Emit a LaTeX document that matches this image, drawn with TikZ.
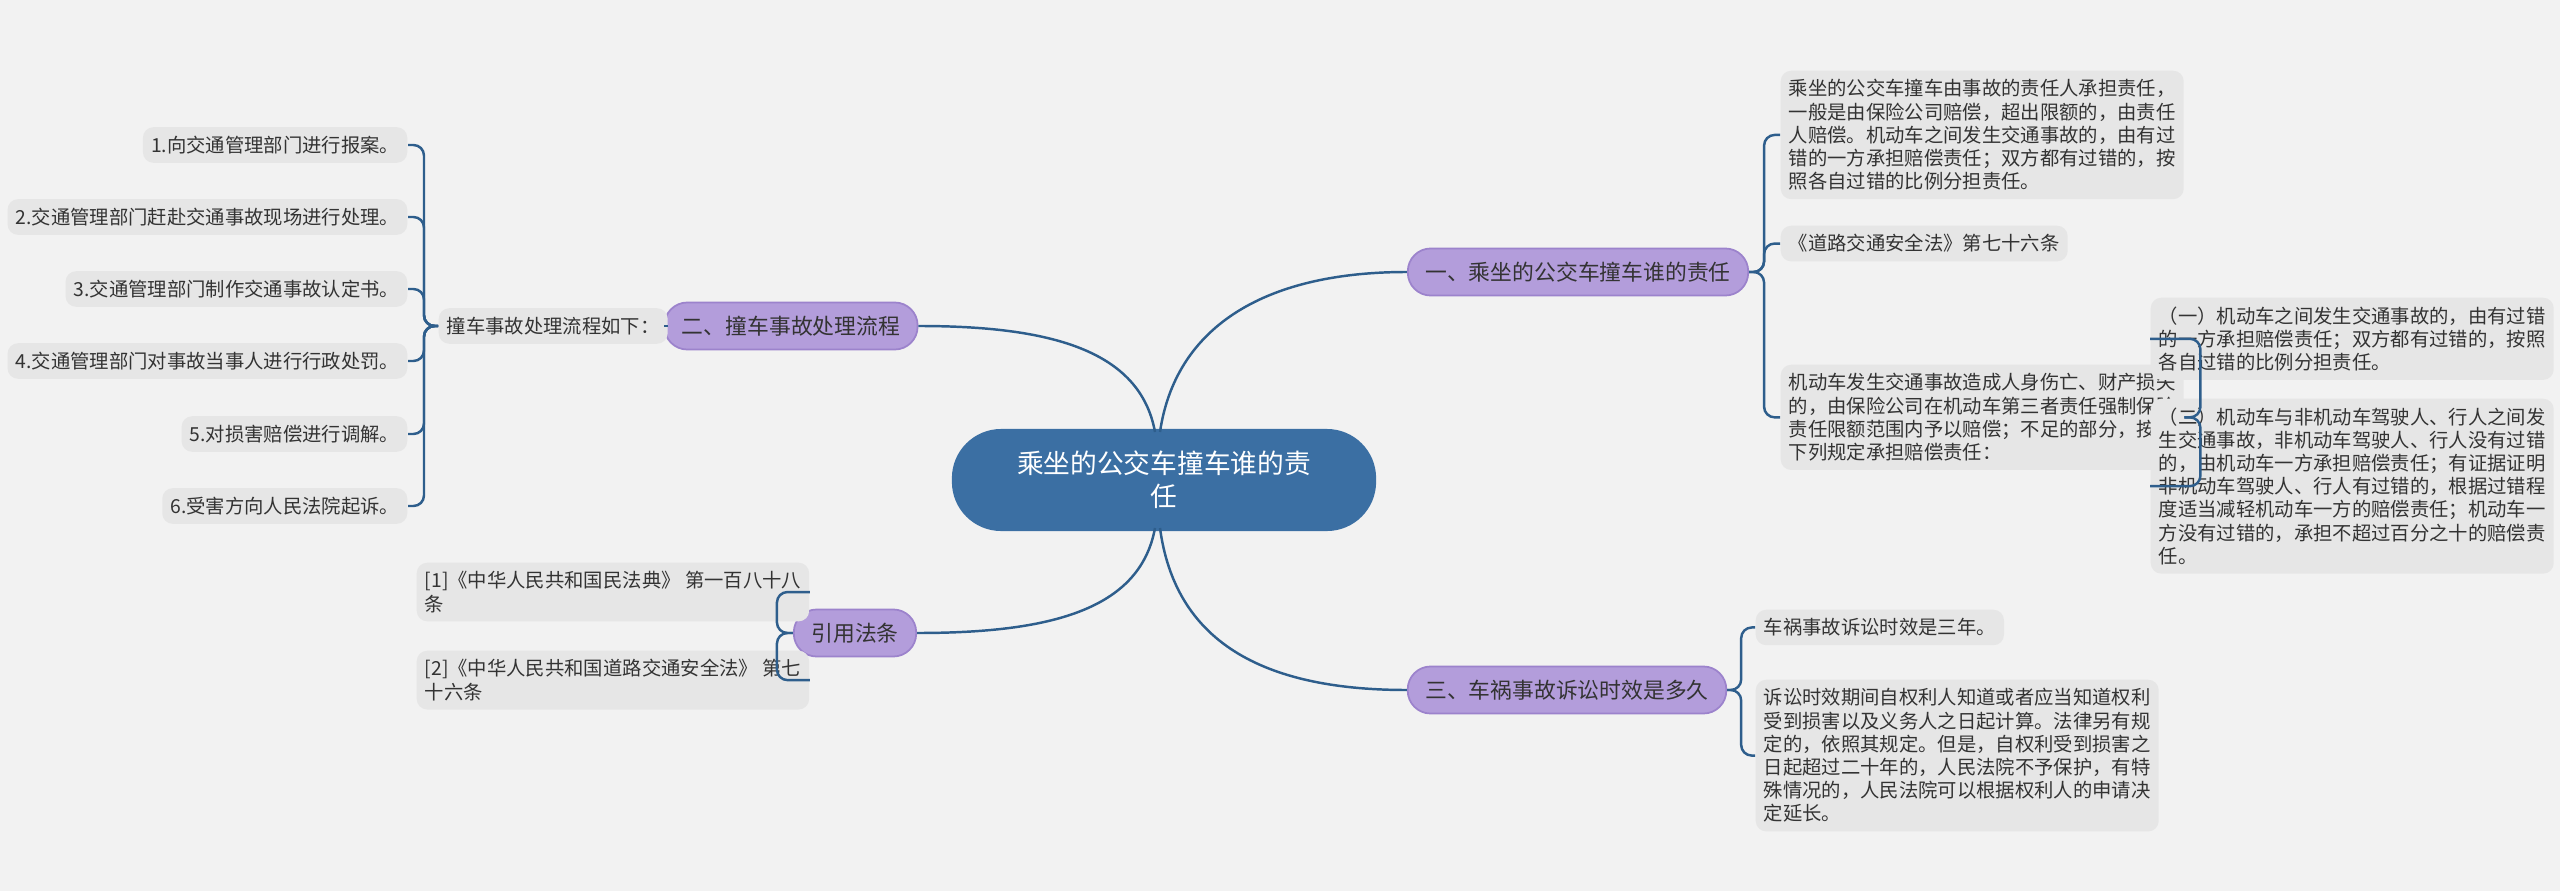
\documentclass[tikz,border=0pt]{standalone}
\usepackage{fontspec}
\setmainfont{Noto Sans CJK SC}
\usetikzlibrary{calc}
\definecolor{bg}{HTML}{F2F2F2}
\definecolor{leaf}{HTML}{E6E6E6}
\definecolor{lnk}{HTML}{2E5E8C}
\definecolor{ctr}{HTML}{3B6FA3}
\definecolor{br}{HTML}{B39DDB}
\definecolor{brd}{HTML}{9C83CC}
\definecolor{txt}{HTML}{333333}
\tikzset{
 leafbox/.style={fill=leaf,rounded corners=3pt,inner xsep=2.3pt,inner ysep=2.5pt,align=left,font=\fontsize{5.5pt}{6.6pt}\selectfont,text=txt},
 branchbox/.style={fill=br,draw=brd,line width=0.5pt,rounded corners=6.5pt,minimum height=0.47cm,inner xsep=5pt,font=\fontsize{6.2pt}{7.5pt}\selectfont,text=txt},
 link/.style={draw=lnk,line width=0.7pt},
 brace/.style={link,rounded corners=3pt},
}
\begin{document}
\begin{tikzpicture}[x=0.01cm,y=-0.01cm]
\fill[bg] (0,0) rectangle (2560,891);
\useasboundingbox (0,0) rectangle (2560,891);
% center
\node[fill=ctr,rounded corners=14pt,minimum width=4.24cm,minimum height=1.02cm,align=center,text=white,font=\fontsize{7.6pt}{9.5pt}\selectfont] (c) at (1164,480) {乘坐的公交车撞车谁的责\\任};
% branches
\node[branchbox] (b1) at (1578,272) {一、乘坐的公交车撞车谁的责任};
\node[branchbox] (b2) at (791,326) {二、撞车事故处理流程};
\node[branchbox] (b4) at (855,633) {引用法条};
\node[branchbox] (b3) at (1567,690) {三、车祸事故诉讼时效是多久};
\draw[link] (1160,432) .. controls (1175,330) and (1260,272) .. (b1.west);
\draw[link] (1155,432) .. controls (1140,350) and (1050,326) .. (b2.east);
\draw[link] (1155,528) .. controls (1140,610) and (1050,633) .. (b4.east);
\draw[link] (1160,528) .. controls (1175,640) and (1260,690) .. (b3.west);
% branch 1 leaves
\node[leafbox,anchor=north west] (l1a) at (1780,70) {乘坐的公交车撞车由事故的责任人承担责任，\\一般是由保险公司赔偿，超出限额的，由责任\\人赔偿。机动车之间发生交通事故的，由有过\\错的一方承担赔偿责任；双方都有过错的，按\\照各自过错的比例分担责任。};
\node[leafbox,anchor=north west] (l1b) at (1780,225) {《道路交通安全法》第七十六条};
\node[leafbox,anchor=north west] (l1c) at (1780,364) {机动车发生交通事故造成人身伤亡、财产损失\\的，由保险公司在机动车第三者责任强制保险\\责任限额范围内予以赔偿；不足的部分，按照\\下列规定承担赔偿责任：};
\node[leafbox,anchor=north west] (c1) at (2150,297) {（一）机动车之间发生交通事故的，由有过错\\的一方承担赔偿责任；双方都有过错的，按照\\各自过错的比例分担责任。};
\node[leafbox,anchor=north west] (c2) at (2150,398) {（二）机动车与非机动车驾驶人、行人之间发\\生交通事故，非机动车驾驶人、行人没有过错\\的，由机动车一方承担赔偿责任；有证据证明\\非机动车驾驶人、行人有过错的，根据过错程\\度适当减轻机动车一方的赔偿责任；机动车一\\方没有过错的，承担不超过百分之十的赔偿责\\任。};
\foreach \t in {l1a,l1b,l1c} \draw[brace] (b1.east) -- ($(b1.east)+(15,0)$) |- (\t.west);
\foreach \t in {c1,c2} \draw[brace] (l1c.east) -- ($(l1c.east)+(16,0)$) |- (\t.west);
% branch 3 leaves
\node[leafbox,anchor=north west] (l3a) at (1755,609) {车祸事故诉讼时效是三年。};
\node[leafbox,anchor=north west] (l3b) at (1755,679) {诉讼时效期间自权利人知道或者应当知道权利\\受到损害以及义务人之日起计算。法律另有规\\定的，依照其规定。但是，自权利受到损害之\\日起超过二十年的，人民法院不予保护，有特\\殊情况的，人民法院可以根据权利人的申请决\\定延长。};
\foreach \t in {l3a,l3b} \draw[brace] (b3.east) -- ($(b3.east)+(14,0)$) |- (\t.west);
% branch 2
\node[leafbox,anchor=west] (m2) at (438,326) {撞车事故处理流程如下：};
\draw[link] (m2.east) -- (b2.west);
\foreach \i/\y/\s in {1/145/1.向交通管理部门进行报案。,2/217/2.交通管理部门赶赴交通事故现场进行处理。,3/289/3.交通管理部门制作交通事故认定书。,4/361/4.交通管理部门对事故当事人进行行政处罚。,5/434/5.对损害赔偿进行调解。,6/506/6.受害方向人民法院起诉。}{
 \node[leafbox,anchor=east] (s\i) at (408,\y) {\s};
 \draw[brace] (m2.west) -- ($(m2.west)+(-14,0)$) |- (s\i.east);
}
% references
\node[leafbox,anchor=north west] (r1) at (416,562) {[1]《中华人民共和国民法典》 第一百八十八\\条};
\node[leafbox,anchor=north west] (r2) at (416,650) {[2]《中华人民共和国道路交通安全法》 第七\\十六条};
\foreach \t in {r1,r2} \draw[brace] (b4.west) -- ($(b4.west)+(-16,0)$) |- (\t.east);
\end{tikzpicture}
\end{document}
